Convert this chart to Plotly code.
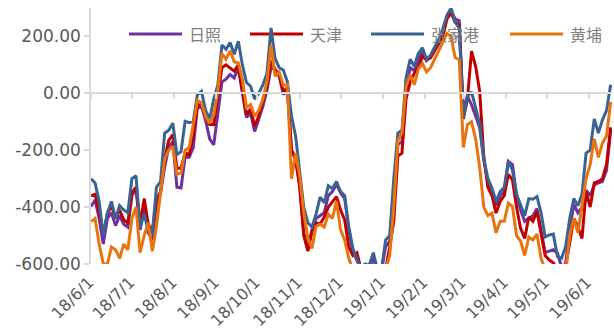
import datetime as dt
import plotly.graph_objects as go

# Observation dates: every 3 days from 2018-06-01
start = dt.date(2018, 6, 1)
dates = [start + dt.timedelta(days=3 * i) for i in range(128)]

# 张家港
zhangjiagang = [
    -300, -315, -380, -500, -420, -380, -440, -395, -410, -420,
    -300, -290, -470, -425, -480, -490, -330, -310, -140, -130,
    -105, -215, -205, -98, -103, -98, -5, 7, -60, -90,
    -20, 30, 170, 155, 179, 137, 183, 100, 38, 25,
    -20, 0, 30, 70, 230, 122, 90, 82, 40, -80,
    -150, -270, -400, -455, -470, -425, -365, -385, -325, -335,
    -310, -345, -360, -468, -545, -585, -615, -600, -605, -560,
    -620, -620, -516, -500, -300, -140, -130, 55, 120, 95,
    140, 160, 120, 135, 160, 190, 228, 275, 300, 250,
    230, -85, -10, 5, -50, -110, -230, -300, -333, -380,
    -345, -330, -240, -270, -355, -395, -430, -370, -372, -363,
    -420, -505, -498, -495, -574, -580, -539, -440, -370, -395,
    -355, -210, -200, -90, -140, -93, -60, 30,
]

# 天津
tianjin = [
    -360, -355, -420, -495, -425, -395, -440, -410, -445, -455,
    -350, -330, -460, -370, -460, -485, -375, -345, -230, -165,
    -145, -263, -263, -210, -215, -150, -40, -40, -80, -110,
    -110, -15, 90, 100, 90, 78, 100, 5, -75, -55,
    -115, -80, -30, 25, 115, 84, 65, 5, 20, -200,
    -233, -330, -500, -555, -485, -455, -460, -435, -400, -380,
    -363, -410, -445, -540, -570, -560, -620, -630, -630, -620,
    -630, -630, -620, -540, -450, -220, -210, -20, 40, 70,
    90, 130, 118, 125, 150, 175, 200, 262, 283, 250,
    240, -90, -20, 148, 95, 7, -222, -330, -360, -421,
    -380, -360, -285, -304, -400, -475, -510, -435, -450, -415,
    -490, -570, -586, -596, -620, -630, -610, -520, -440, -470,
    -510, -345, -400, -315, -310, -300, -250, -120,
]

# 日照
rizhao = [
    -398, -375, -440, -530, -440, -420, -465, -430, -460, -470,
    -360, -335, -480, -400, -490, -515, -390, -350, -260, -190,
    -170, -330, -333, -225, -225, -190, -50, -45, -95, -160,
    -181, -60, 40, 50, 66, 54, 90, 0, -85, -70,
    -134, -90, -46, 10, 90, 84, 60, -4, 15, -200,
    -225, -320, -490, -545, -480, -440, -430, -420, -360, -345,
    -320, -350, -370, -480, -555, -590, -620, -610, -615, -580,
    -625, -625, -540, -520, -350, -180, -170, 20, 90, 80,
    115, 150, 115, 130, 155, 185, 215, 268, 290, 262,
    255, -60, -10, -40, -80, -120, -235, -310, -340, -395,
    -360, -345, -239, -250, -360, -410, -450, -440, -430, -405,
    -480, -560, -555, -550, -562, -610, -600, -480, -390, -420,
    -400, -340, -360, -322, -315, -310, -270, -130,
]

# 黄埔
huangpu = [
    -451, -440, -530, -600, -600, -540, -550, -580, -530, -550,
    -440, -400, -560, -500, -455, -555, -468, -350, -230, -200,
    -186, -285, -280, -200, -190, -110, -25, -33, -80, -105,
    -75, 10, 140, 120, 150, 110, 107, 50, -50, -40,
    -80, -60, -20, 40, 170, 60, 75, 28, 31, -300,
    -210, -290, -420, -510, -545, -468, -460, -470, -425, -440,
    -380, -480, -516, -580, -620, -630, -630, -630, -630, -630,
    -630, -630, -620, -570, -400, -165, -140, 25, 65, 30,
    85, 105, 75, 90, 120, 150, 180, 210, 200, 125,
    119, -190, -110, -100, -160, -260, -400, -430, -421, -490,
    -450, -450, -386, -398, -500, -520, -570, -505, -515, -495,
    -580, -620, -630, -630, -630, -630, -630, -500, -440, -490,
    -390, -300, -250, -160, -225, -175, -150, -30,
]

series = [
    ("日照", rizhao, "#7030A0"),
    ("天津", tianjin, "#C00000"),
    ("张家港", zhangjiagang, "#3A6393"),
    ("黄埔", huangpu, "#E8740F"),
]

# Month ticks and labels
tick_dates = [dt.date(2018 + (5 + k) // 12, (5 + k) % 12 + 1, 1) for k in range(13)]
tick_labels = ["18/6/1", "18/7/1", "18/8/1", "18/9/1", "18/10/1", "18/11/1",
               "18/12/1", "19/1/1", "19/2/1", "19/3/1", "19/4/1", "19/5/1", "19/6/1"]
y_ticks = [-600, -400, -200, 0, 200]
y_labels = ["-600.00", "-400.00", "-200.00", "0.00", "200.00"]

W, H = 614, 332
ML, MR, MT, MB = 91, 2, 8, 68
Y_MIN, Y_MAX = -600, 300
X_MIN, X_MAX = dt.date(2018, 6, 1), dt.date(2019, 6, 18)

fig = go.Figure()
for name, vals, color in series:
    fig.add_trace(go.Scatter(
        x=dates, y=vals, name=name, mode="lines",
        line=dict(color=color, width=3), showlegend=False,
    ))
# carrier trace for the axis drawn along zero
fig.add_trace(go.Scatter(x=[dates[0]], y=[None], xaxis="x2", mode="lines",
                         showlegend=False, hoverinfo="skip"))

grey_txt = "#595959"
axis_col = "#D9D9D9"
zero_pos = (0 - Y_MIN) / (Y_MAX - Y_MIN)

fig.update_layout(
    width=W, height=H,
    margin=dict(l=ML, r=MR, t=MT, b=MB, pad=0, autoexpand=False),
    paper_bgcolor="white", plot_bgcolor="white",
    showlegend=False,
    font=dict(family="DejaVu Sans", color=grey_txt),
    xaxis=dict(
        type="date", range=[X_MIN, X_MAX], automargin=False,
        tickvals=tick_dates, ticktext=tick_labels, tickangle=-45,
        tickfont=dict(size=16, color=grey_txt),
        ticklabelstandoff=5, ticklabelshift=-2,
        showgrid=False, zeroline=False, showline=False, ticks="",
    ),
    xaxis2=dict(
        type="date", overlaying="x", matches="x", anchor="free",
        position=zero_pos, side="bottom", automargin=False,
        tickvals=tick_dates, showticklabels=False,
        showgrid=False, zeroline=False,
        showline=True, linecolor=axis_col, linewidth=2,
        ticks="outside", ticklen=5, tickwidth=1.5, tickcolor=axis_col,
    ),
    yaxis=dict(
        range=[Y_MIN, Y_MAX], tickvals=y_ticks, ticktext=y_labels,
        automargin=False,
        tickfont=dict(size=17, color=grey_txt),
        showgrid=False, zeroline=False,
        showline=True, linecolor=axis_col, linewidth=1.5,
        ticks="outside", ticklen=5, tickwidth=1.5, tickcolor=axis_col,
    ),
)

# Legend row across the top of the plot
pw, ph = W - ML - MR, H - MT - MB
def px(x):
    return (x - ML) / pw
def py(y):
    return (H - MB - y) / ph

legend_x = [129, 250, 371, 510]
legend_y = 34
for (name, _, color), lx in zip(series, legend_x):
    fig.add_shape(type="line", xref="paper", yref="paper",
                  x0=px(lx), x1=px(lx + 53), y0=py(legend_y), y1=py(legend_y),
                  line=dict(color=color, width=3), layer="below")
    fig.add_annotation(xref="paper", yref="paper", x=px(lx + 58), y=py(legend_y),
                       text=name, showarrow=False, xanchor="left", yanchor="middle",
                       font=dict(family="Noto Sans CJK SC", size=16, color="#7F7F7F"))

fig.write_html("out.html")
